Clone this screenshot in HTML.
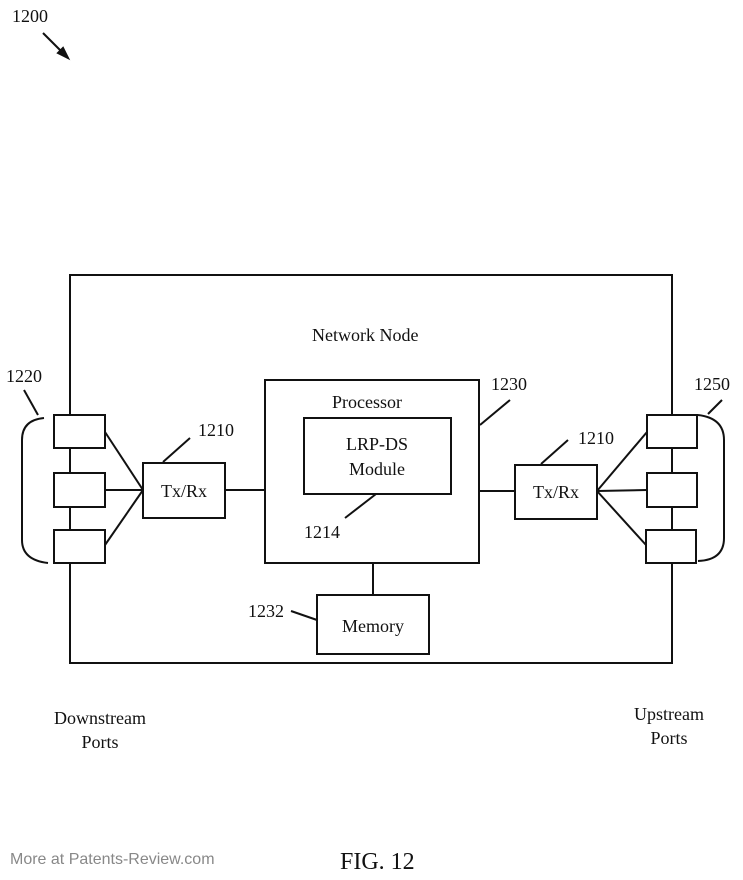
<!DOCTYPE html>
<html><head><style>body{margin:0;background:#fff}svg{display:block}text{font-family:"Liberation Serif",serif;fill:#111}</style></head><body>
<svg width="743" height="880" viewBox="0 0 743 880" xmlns="http://www.w3.org/2000/svg">
<g stroke="#111" stroke-width="2" fill="none">
<line x1="43" y1="33" x2="68" y2="58"/>
<polygon points="68,58 58,53 63,48" fill="#111"/>
<rect x="70" y="275" width="602" height="388"/>
<rect x="265" y="380" width="214" height="183"/>
<rect x="304" y="418" width="147" height="76"/>
<rect x="317" y="595" width="112" height="59"/>
<line x1="373" y1="563" x2="373" y2="595"/>
<rect x="143" y="463" width="82" height="55" fill="#fff"/>
<rect x="515" y="465" width="82" height="54" fill="#fff"/>
<line x1="225" y1="490" x2="265" y2="490"/>
<line x1="479" y1="491" x2="515" y2="491"/>
<rect x="54" y="415" width="51" height="33" fill="#fff"/>
<rect x="54" y="473" width="51" height="34" fill="#fff"/>
<rect x="54" y="530" width="51" height="33" fill="#fff"/>
<line x1="105" y1="432" x2="143" y2="490"/>
<line x1="105" y1="490" x2="143" y2="490"/>
<line x1="105" y1="545" x2="143" y2="490"/>
<rect x="647" y="415" width="50" height="33" fill="#fff"/>
<rect x="647" y="473" width="50" height="34" fill="#fff"/>
<rect x="646" y="530" width="50" height="33" fill="#fff"/>
<line x1="597" y1="491" x2="647" y2="432"/>
<line x1="597" y1="491" x2="647" y2="490"/>
<line x1="597" y1="491" x2="646" y2="545"/>
<path d="M44,418 Q22,420 22,440 L22,540 Q22,560 48,563"/>
<line x1="24" y1="390" x2="38" y2="415"/>
<path d="M698,415 Q724,418 724,440 L724,538 Q724,560 698,561"/>
<line x1="722" y1="400" x2="708" y2="414"/>
<line x1="480" y1="425" x2="510" y2="400"/>
<line x1="163" y1="462" x2="190" y2="438"/>
<line x1="541" y1="464" x2="568" y2="440"/>
<line x1="345" y1="518" x2="376" y2="494"/>
<line x1="291" y1="611" x2="317" y2="620"/>
</g>
<g font-size="18">
<text x="12" y="22">1200</text>
<text x="312" y="341" font-size="18">Network Node</text>
<text x="6" y="382">1220</text>
<text x="198" y="436">1210</text>
<text x="332" y="408">Processor</text>
<text x="377" y="450" text-anchor="middle">LRP-DS</text>
<text x="377" y="475" text-anchor="middle">Module</text>
<text x="184" y="497" text-anchor="middle">Tx/Rx</text>
<text x="556" y="498" text-anchor="middle">Tx/Rx</text>
<text x="491" y="390">1230</text>
<text x="578" y="444">1210</text>
<text x="694" y="390">1250</text>
<text x="304" y="538">1214</text>
<text x="248" y="617">1232</text>
<text x="373" y="632" text-anchor="middle">Memory</text>
<text x="100" y="724" text-anchor="middle">Downstream</text>
<text x="100" y="748" text-anchor="middle">Ports</text>
<text x="669" y="720" text-anchor="middle">Upstream</text>
<text x="669" y="744" text-anchor="middle">Ports</text>
<text x="340" y="869" font-size="24">FIG. 12</text>
</g>
<text x="10" y="864" font-size="16" style="font-family:'Liberation Sans',sans-serif;fill:#888">More at Patents-Review.com</text>
</svg>
</body></html>
